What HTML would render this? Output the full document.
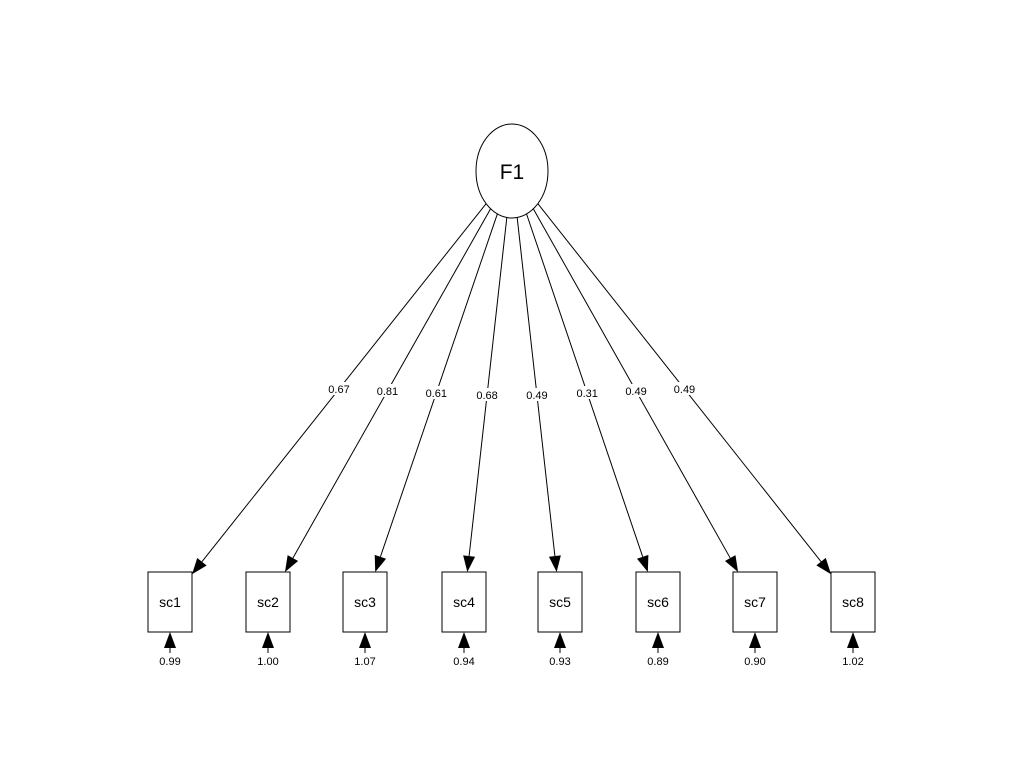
<!DOCTYPE html>
<html><head><meta charset="utf-8"><style>
html,body{margin:0;padding:0;background:#fff;}
svg{display:block;font-family:"Liberation Sans",sans-serif;}
</style></head><body>
<svg id="s" width="1024" height="774" viewBox="0 0 1024 774" xmlns="http://www.w3.org/2000/svg">
<ellipse cx="512" cy="171" rx="36" ry="47" fill="#fff" stroke="#000" stroke-width="1"/>
<text x="512" y="179" font-size="21" text-anchor="middle">F1</text>
</svg>
<script>
var s=document.getElementById('s'),NS='http://www.w3.org/2000/svg';
function el(n,a,t){var e=document.createElementNS(NS,n);for(var k in a)e.setAttribute(k,a[k]);if(t)e.textContent=t;s.appendChild(e);return e;}
var cxs=[170,268,365,464,560,658,755,853];
var L=['0.67','0.81','0.61','0.68','0.49','0.31','0.49','0.49'];
var R=['0.99','1.00','1.07','0.94','0.93','0.89','0.90','1.02'];
var ly=[389,391,393,395,395,393,391,389];
var ex=512,ey=171,rx=36,ry=47,by=602,hw=22,hh=30;
function arrow(x1,y1,x2,y2){
 var dx=x2-x1,dy=y2-y1,d=Math.hypot(dx,dy),ux=dx/d,uy=dy/d,al=16,aw=6;
 var bx=x2-ux*al,byy=y2-uy*al;
 el('line',{x1:x1,y1:y1,x2:bx,y2:byy,stroke:'#000','stroke-width':1});
 el('polygon',{points:x2+','+y2+' '+(bx-uy*aw)+','+(byy+ux*aw)+' '+(bx+uy*aw)+','+(byy-ux*aw),fill:'#000'});
}
for(var i=0;i<8;i++){
 var cx=cxs[i],dx=cx-ex,dy=by-ey;
 var te=1/Math.sqrt(dx*dx/(rx*rx)+dy*dy/(ry*ry));
 var tb=Math.min((dy-hh)/dy,Math.abs(dx)>0?(Math.abs(dx)-hw)/Math.abs(dx):9);
 tb=(dy-hh)/dy; var xx=ex+dx*tb;
 if(Math.abs(xx-cx)>hw){tb=(Math.abs(dx)-hw)/Math.abs(dx);}
 arrow(ex+dx*te,ey+dy*te,ex+dx*tb,ey+dy*tb);
 var t=(ly[i]-ey)/dy,lx=ex+dx*t;
 el('rect',{x:lx-12,y:ly[i]-7,width:24,height:13,fill:'#fff'});
 el('text',{x:lx,y:ly[i]+4,'font-size':11,'text-anchor':'middle'},L[i]);
 el('rect',{x:cx-hw,y:by-hh,width:2*hw,height:2*hh,fill:'#fff',stroke:'#000','stroke-width':1});
 el('text',{x:cx,y:by+5,'font-size':14,'text-anchor':'middle'},'sc'+(i+1));
 arrow(cx,653,cx,632);
 el('text',{x:cx,y:665,'font-size':11,'text-anchor':'middle'},R[i]);
}
</script>
</body></html>
